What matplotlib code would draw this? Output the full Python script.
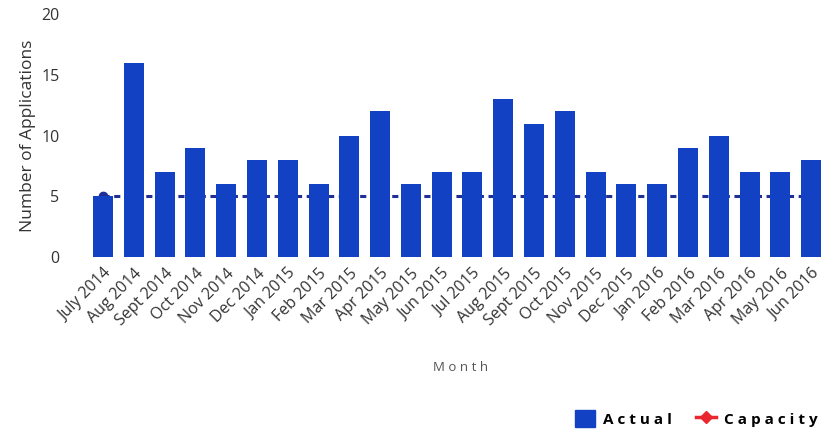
import numpy as np
import matplotlib.pyplot as plt
from matplotlib.lines import Line2D
from matplotlib.patches import Patch

plt.rcParams['font.family'] = ['Open Sans', 'DejaVu Sans']

# 每月申请数
months = ['July 2014', 'Aug 2014', 'Sept 2014', 'Oct 2014', 'Nov 2014', 'Dec 2014',
          'Jan 2015', 'Feb 2015', 'Mar 2015', 'Apr 2015', 'May 2015', 'Jun 2015',
          'Jul 2015', 'Aug 2015', 'Sept 2015', 'Oct 2015', 'Nov 2015', 'Dec 2015',
          'Jan 2016', 'Feb 2016', 'Mar 2016', 'Apr 2016', 'May 2016', 'Jun 2016']
actual = [5, 16, 7, 9, 6, 8, 8, 6, 10, 12, 6, 7, 7, 13, 11, 12, 7, 6, 6, 9, 10, 7, 7, 8]
capacity = [5] * len(months)

bar_color = '#1341c4'
line_color = '#1f2f96'

fig = plt.figure(figsize=(8.27, 4.30), dpi=100)
ax = fig.add_axes([0.109, 0.402, 0.890, 0.565])

x = np.arange(len(months))
ax.plot(x, capacity, color=line_color, lw=2.2, ls=(0, (2, 1.5)), zorder=1)
ax.plot(x[0], capacity[0], 'o', color=line_color, ms=6, zorder=1)
ax.bar(x, actual, width=0.65, color=bar_color, zorder=2)

ax.set_ylim(0, 20)
ax.set_xlim(-0.42, len(months) - 0.51)
ax.set_yticks([0, 5, 10, 15, 20])
ax.set_xticks(x)
ax.set_xticklabels(months, rotation=45, ha='right', rotation_mode='anchor',
                   fontsize=11.5, color='#333333')
ax.tick_params(axis='both', length=0, colors='#333333')
ax.tick_params(axis='y', labelsize=11.5, pad=22)
ax.tick_params(axis='x', pad=6)
for s in ax.spines.values():
    s.set_visible(False)

ax.set_ylabel('Number of Applications', fontsize=12.5, color='#333333', labelpad=4)
fig.text(0.557, 0.145, 'M o n t h', ha='center', va='center', fontsize=9.5, color='#555555')

handles = [Patch(color=bar_color),
           Line2D([0], [0], color='#e8282e', lw=2.5, marker='D', ms=6)]
leg = fig.legend(handles, ['A c t u a l', 'C a p a c i t y'], loc='lower right',
                 bbox_to_anchor=(1.005, -0.025), ncol=2, frameon=False,
                 prop={'weight': 'bold', 'size': 11}, handlelength=1.3,
                 handleheight=1.3, columnspacing=1.6, handletextpad=0.5)

fig.savefig('out.png', dpi=100)
